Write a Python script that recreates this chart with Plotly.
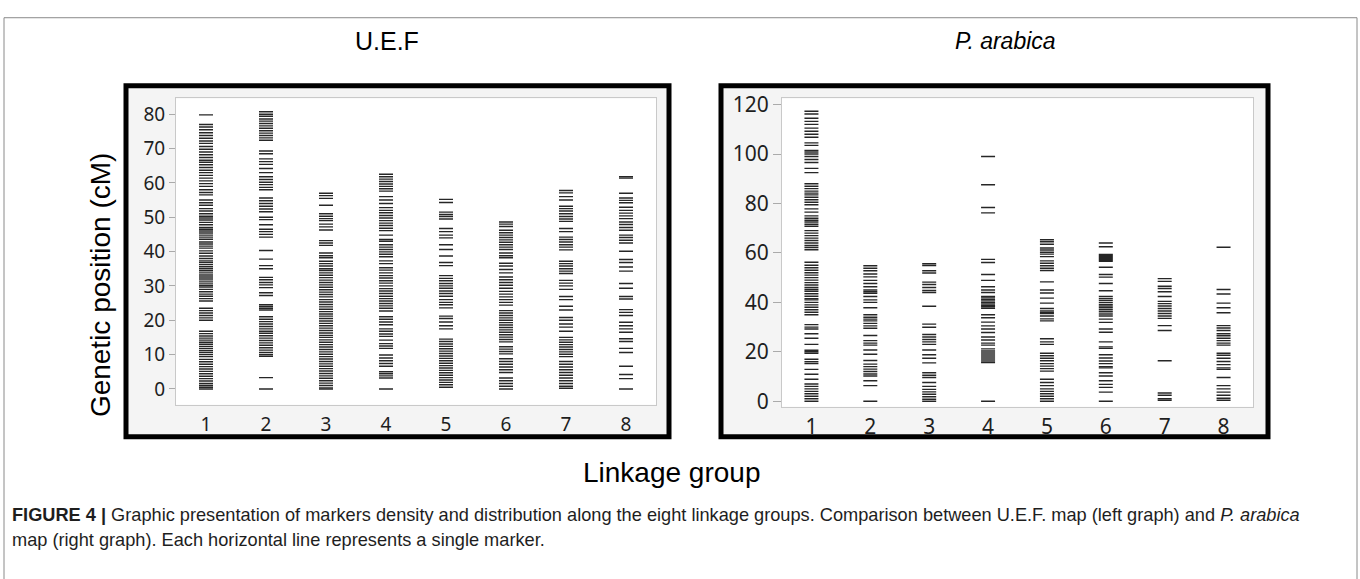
import plotly.graph_objects as go

W, H = 1360, 579

groups = [1, 2, 3, 4, 5, 6, 7, 8]
group_labels = ["1", "2", "3", "4", "5", "6", "7", "8"]
uef_yticks = [0, 10, 20, 30, 40, 50, 60, 70, 80]
ara_yticks = [0, 20, 40, 60, 80, 100, 120]

# ---- U.E.F map: marker positions (cM) per linkage group ----
uef_lg1 = [79.8, 77.0, 76.3, 75.5, 74.6, 73.8, 73.0, 72.2, 71.5, 70.6, 69.8, 69.0, 68.2, 67.4, 66.6,
           66.0, 65.3, 64.5, 63.7, 63.0, 62.2, 61.4, 60.6, 59.8, 59.0, 58.0, 57.2, 56.5, 55.0, 54.2,
           53.5, 52.5, 51.8, 51.0, 50.3, 49.8, 49.2, 48.5, 47.8, 47.0, 46.5, 46.0, 45.4, 44.8, 44.2,
           43.6, 42.8, 42.2, 41.6, 41.0, 40.2, 39.5, 38.7, 38.0, 37.3, 36.8, 36.2, 35.6, 35.0, 34.4,
           33.8, 33.2, 32.6, 32.0, 31.4, 30.8, 30.2, 29.7, 29.0, 28.3, 27.6, 27.0, 26.3, 25.6, 23.5,
           22.8, 22.1, 21.4, 20.7, 20.0, 16.8, 16.1, 15.4, 14.8, 14.2, 13.6, 13.0, 12.4, 11.8, 11.2,
           10.6, 10.0, 9.4, 8.6, 7.9, 7.2, 6.5, 5.8, 5.1, 4.4, 3.7, 3.0, 2.3, 1.6, 1.0, 0.5, 0.0]
uef_lg2 = [80.7, 80.0, 79.4, 78.6, 78.0, 77.3, 76.6, 75.9, 75.2, 74.5, 73.8, 73.1, 72.4, 69.3, 68.5,
           67.0, 66.2, 65.4, 64.2, 63.0, 61.8, 61.0, 60.2, 59.5, 58.7, 58.0, 55.6, 54.8, 54.0, 53.2,
           52.4, 51.6, 50.0, 49.3, 47.8, 46.5, 45.8, 45.0, 44.2, 40.3, 37.8, 35.9, 35.0, 32.5, 31.8,
           31.0, 30.3, 29.5, 28.0, 27.2, 24.5, 24.0, 23.5, 23.0, 21.0, 20.3, 19.6, 18.9, 18.2, 17.5,
           16.8, 16.2, 15.5, 14.8, 14.1, 13.4, 12.7, 12.0, 11.3, 10.6, 10.0, 9.5, 3.3, 0.0]
uef_lg3 = [57.0, 56.3, 55.5, 53.5, 51.0, 50.3, 49.6, 49.0, 48.0, 47.2, 46.3, 43.2, 42.5, 41.8, 39.6,
           38.8, 38.2, 37.2, 36.5, 35.8, 35.0, 34.5, 33.8, 33.1, 32.4, 31.7, 31.0, 30.3, 29.6, 28.9,
           28.2, 27.5, 26.8, 26.0, 25.3, 24.6, 23.9, 23.2, 22.5, 21.8, 21.2, 20.5, 19.8, 19.1, 18.4,
           17.7, 17.0, 16.3, 15.6, 15.0, 14.3, 13.6, 12.9, 12.2, 11.5, 10.8, 10.1, 9.4, 8.7, 8.0,
           7.3, 6.6, 5.9, 5.2, 4.5, 3.8, 3.1, 2.4, 1.7, 1.0, 0.3, 0.0]
uef_lg4 = [62.5, 61.8, 61.1, 60.4, 59.7, 59.0, 58.3, 57.6, 56.0, 55.0, 54.0, 52.8, 52.0, 51.3, 50.5,
           49.8, 49.0, 48.3, 47.6, 46.8, 46.1, 44.8, 43.5, 43.0, 42.0, 41.3, 40.6, 39.9, 39.2, 38.5,
           37.3, 36.5, 35.3, 34.6, 33.8, 33.0, 32.3, 31.5, 30.8, 30.0, 29.2, 28.5, 27.8, 27.0, 26.3,
           25.6, 24.9, 24.2, 23.5, 22.7, 21.0, 20.3, 19.5, 18.7, 17.5, 16.8, 16.0, 15.3, 14.2, 13.2,
           12.5, 11.8, 9.9, 9.0, 8.2, 7.4, 6.6, 5.0, 4.4, 3.8, 3.2, 0.0]
uef_lg5 = [55.2, 54.3, 51.5, 50.8, 50.2, 49.5, 46.7, 45.8, 44.8, 44.0, 42.0, 40.6, 38.7, 36.8, 35.9,
           33.0, 32.2, 31.5, 30.7, 30.0, 29.3, 28.5, 27.8, 27.0, 26.0, 25.2, 24.5, 23.6, 21.2, 20.5,
           19.5, 18.4, 17.5, 14.5, 13.8, 13.1, 12.4, 11.7, 11.0, 10.3, 9.6, 8.9, 8.2, 7.5, 6.8,
           6.1, 5.4, 4.7, 4.0, 3.3, 2.6, 1.9, 1.2, 0.5]
uef_lg6 = [48.6, 48.0, 47.3, 46.2, 45.5, 44.8, 44.1, 43.4, 42.7, 42.0, 41.3, 40.6, 39.6, 38.8, 38.2,
           36.6, 35.8, 34.8, 33.8, 32.6, 31.8, 31.0, 30.2, 29.3, 28.4, 27.6, 26.8, 26.0, 25.2, 24.4,
           22.8, 22.1, 21.4, 20.7, 20.0, 19.3, 18.6, 17.9, 17.2, 16.5, 15.8, 15.1, 14.4, 13.7, 12.3,
           11.6, 10.9, 10.2, 8.8, 8.0, 7.2, 6.4, 5.6, 4.8, 3.2, 2.4, 1.6, 0.8, 0.0]
uef_lg7 = [57.8, 57.1, 56.0, 55.0, 53.2, 52.5, 51.8, 51.0, 50.2, 49.5, 48.8, 46.7, 45.8, 44.2, 43.5,
           42.8, 42.0, 41.3, 40.5, 37.2, 36.5, 35.8, 35.0, 34.3, 33.6, 31.6, 30.8, 30.0, 29.0, 26.9,
           26.0, 24.1, 23.0, 20.8, 20.0, 18.9, 18.0, 16.8, 15.0, 14.3, 13.6, 12.9, 12.2, 11.5, 10.8,
           10.1, 9.4, 8.0, 7.2, 6.4, 5.6, 4.8, 4.0, 3.2, 2.4, 1.6, 0.8, 0.2]
uef_lg8 = [61.8, 61.4, 57.0, 55.6, 54.9, 54.2, 52.9, 52.0, 51.2, 50.4, 49.6, 48.6, 47.9, 47.0, 46.2,
           44.8, 44.1, 43.3, 42.5, 40.1, 37.7, 36.8, 35.5, 34.3, 30.7, 29.3, 26.9, 26.2, 23.1, 22.3,
           21.4, 19.4, 18.4, 17.5, 16.5, 14.6, 13.8, 11.8, 10.6, 6.6, 4.2, 3.0, 0.0]

# ---- P. arabica map: marker positions (cM) per linkage group ----
ara_lg1 = [117.3, 116.2, 114.5, 113.2, 112.0, 110.5, 109.2, 108.0, 106.8, 104.5, 103.5, 101.5, 100.8,
           100.0, 99.0, 97.8, 96.6, 94.2, 92.5, 88.0, 87.0, 86.0, 85.0, 84.2, 83.5, 82.5, 81.5, 80.5,
           79.5, 77.8, 76.5, 75.0, 74.0, 73.2, 72.5, 71.6, 70.8, 69.0, 68.0, 67.0, 66.0, 65.0, 64.0,
           63.0, 62.2, 61.3, 56.2, 55.0, 54.0, 53.0, 52.0, 51.0, 50.0, 49.0, 48.0, 47.0, 46.0, 45.2,
           44.5, 43.5, 42.5, 41.5, 41.0, 40.0, 39.0, 38.0, 37.0, 36.0, 35.0, 31.0, 30.0, 29.2, 27.3,
           25.5, 23.0, 20.6, 20.0, 19.4, 17.0, 16.0, 15.2, 12.9, 10.9, 8.9, 7.0, 6.0, 5.0, 4.0, 3.0,
           2.0, 1.0, 0.0]
ara_lg2 = [54.8, 53.8, 52.8, 51.5, 50.3, 48.9, 47.6, 46.3, 45.0, 44.3, 43.7, 42.4, 41.0, 40.0, 37.8,
           35.0, 34.0, 33.2, 32.5, 31.5, 30.5, 29.5, 26.6, 24.5, 23.5, 22.7, 20.7, 19.0, 16.5, 15.0,
           14.0, 13.0, 12.0, 11.0, 10.2, 8.3, 6.3, 0.0]
ara_lg3 = [55.6, 54.9, 52.8, 51.9, 48.2, 47.2, 46.0, 44.8, 44.0, 38.4, 31.2, 29.9, 27.0, 26.0, 25.0,
           24.0, 23.0, 20.7, 18.8, 17.4, 15.5, 11.5, 10.5, 9.6, 7.6, 6.0, 4.8, 3.8, 2.8, 1.8, 0.8, 0.0]
ara_lg4 = [99.0, 87.6, 78.4, 76.2, 57.4, 56.1, 51.3, 48.9, 46.3, 45.0, 44.0, 42.4, 41.8, 41.2, 40.6,
           40.0, 39.4, 38.8, 38.2, 37.6, 35.0, 33.8, 32.0, 30.5, 29.2, 27.8, 26.0, 24.8, 23.5, 22.7,
           21.2, 20.3, 19.5, 18.7, 17.9, 17.1, 16.3, 15.6, 0.0]
ara_lg5 = [65.3, 64.5, 63.5, 62.0, 61.2, 60.3, 59.5, 58.5, 56.8, 55.8, 54.8, 53.8, 52.9, 48.3, 45.0,
           43.8, 41.7, 39.7, 37.5, 36.5, 35.8, 35.5, 34.5, 33.3, 32.5, 25.3, 24.0, 23.0, 19.4, 18.4,
           17.4, 16.4, 15.2, 14.2, 13.2, 12.2, 8.9, 7.6, 6.3, 5.0, 4.0, 3.0, 2.0, 1.0, 0.0]
ara_lg6 = [64.0, 62.5, 59.4, 59.0, 58.6, 58.2, 57.8, 57.4, 57.0, 56.6, 54.2, 51.3, 50.2, 47.6, 44.7,
           42.4, 41.5, 40.8, 40.0, 39.2, 38.5, 37.8, 37.0, 36.2, 35.3, 34.5, 33.2, 31.9, 29.2, 27.9,
           24.0, 22.0, 21.4, 18.8, 17.5, 16.3, 15.2, 14.0, 13.5, 11.5, 10.2, 8.3, 6.8, 5.6, 3.7, 0.0]
ara_lg7 = [49.6, 48.5, 46.5, 45.6, 44.3, 42.4, 40.4, 39.5, 38.5, 37.5, 36.5, 35.5, 34.5, 33.5, 30.6,
           28.6, 16.4, 3.3, 2.4, 1.0, 0.4]
ara_lg8 = [62.3, 45.2, 43.4, 39.7, 37.8, 35.8, 30.6, 29.6, 28.6, 27.3, 26.5, 25.5, 24.5, 23.5, 22.7,
           19.4, 18.6, 17.4, 16.1, 14.8, 13.5, 12.9, 9.6, 6.3, 5.0, 3.7, 2.4, 1.2, 0.4]

uef_groups = [uef_lg1, uef_lg2, uef_lg3, uef_lg4, uef_lg5, uef_lg6, uef_lg7, uef_lg8]
ara_groups = [ara_lg1, ara_lg2, ara_lg3, ara_lg4, ara_lg5, ara_lg6, ara_lg7, ara_lg8]


def px_x(p):
    return p / W


def px_y(p):
    return 1 - p / H


fig = go.Figure()

mark_style = dict(symbol="line-ew", size=10, line=dict(width=1.4, color="#262626"))

for g, vals in zip(groups, uef_groups):
    fig.add_trace(go.Scatter(x=[g] * len(vals), y=vals, mode="markers", marker=mark_style,
                             xaxis="x", yaxis="y", showlegend=False, hoverinfo="y"))
for g, vals in zip(groups, ara_groups):
    fig.add_trace(go.Scatter(x=[g] * len(vals), y=vals, mode="markers", marker=mark_style,
                             xaxis="x2", yaxis="y2", showlegend=False, hoverinfo="y"))

tick_font_l = dict(family="Noto Sans, Open Sans, sans-serif", size=19, color="#1e1e1e")
tick_font_r = dict(family="Noto Sans, Open Sans, sans-serif", size=21, color="#1e1e1e")
axis_common = dict(showgrid=False, zeroline=False, showline=True, mirror=True,
                   linecolor="#c9c9c9", linewidth=1, fixedrange=True)

fig.update_layout(
    width=W, height=H,
    margin=dict(l=0, r=0, t=0, b=0),
    paper_bgcolor="white",
    plot_bgcolor="rgba(0,0,0,0)",
    xaxis=dict(domain=[px_x(176), px_x(656)], range=[0.5, 8.5], tickvals=groups, ticktext=group_labels,
               ticks="", tickfont=tick_font_l, anchor="y", ticklabelstandoff=2, **axis_common),
    yaxis=dict(domain=[px_y(408), px_y(93)], range=[-4.6, 84.6], tickvals=uef_yticks,
               ticks="outside", ticklen=6, tickcolor="#aaaaaa", tickfont=tick_font_l, anchor="x",
               **axis_common),
    xaxis2=dict(domain=[px_x(782), px_x(1253)], range=[0.5, 8.5], tickvals=groups, ticktext=group_labels,
                ticks="", tickfont=tick_font_r, anchor="y2", ticklabelstandoff=1, **axis_common),
    yaxis2=dict(domain=[px_y(410), px_y(93)], range=[-2.2, 122.5], tickvals=ara_yticks,
                ticks="outside", ticklen=8, tickcolor="#aaaaaa", tickfont=tick_font_r, anchor="x2",
                **axis_common),
)

shapes = []
# outer figure border
shapes.append(dict(type="rect", xref="paper", yref="paper", x0=px_x(4), x1=px_x(1357),
                   y0=px_y(600), y1=px_y(10), line=dict(color="#8a8a8a", width=1), layer="below"))
# panel frames
for x0, x1 in [(126, 669), (721, 1268)]:
    shapes.append(dict(type="rect", xref="paper", yref="paper", x0=px_x(x0), x1=px_x(x1),
                       y0=px_y(441), y1=px_y(80), line=dict(color="black", width=5),
                       fillcolor="#f4f4f4", layer="below"))
# white plot areas
for x0, x1, yb in [(176, 656, 408), (782, 1253, 410)]:
    shapes.append(dict(type="rect", xref="paper", yref="paper", x0=px_x(x0), x1=px_x(x1),
                       y0=px_y(yb), y1=px_y(93), line=dict(width=0), fillcolor="white", layer="below"))
fig.update_layout(shapes=shapes)

title_font = "Liberation Sans Narrow, Arial Narrow, Liberation Sans, Arial, sans-serif"
ann = [
    dict(text="U.E.F", x=px_x(387), y=px_y(34), font=dict(family=title_font, size=25, color="black")),
    dict(text="<i>P. arabica</i>", x=px_x(1005), y=px_y(34),
         font=dict(family=title_font, size=23, color="black")),
    dict(text="Linkage group", x=px_x(671), y=px_y(478),
         font=dict(family="Liberation Sans, Arial, sans-serif", size=28, color="black")),
    dict(text="Genetic position (cM)", x=px_x(100), y=px_y(285), textangle=-90,
         font=dict(family="Liberation Sans, Arial, sans-serif", size=28, color="black")),
    dict(text="<b>FIGURE 4 |</b> Graphic presentation of markers density and distribution along the eight "
              "linkage groups. Comparison between U.E.F. map (left graph) and <i>P. arabica</i>",
         x=px_x(10), y=px_y(521), xanchor="left",
         font=dict(family=title_font, size=18.2, color="#1e1e1e")),
    dict(text="map (right graph). Each horizontal line represents a single marker.",
         x=px_x(10), y=px_y(547), xanchor="left",
         font=dict(family=title_font, size=18.2, color="#1e1e1e")),
]
for a in ann:
    a.setdefault("xanchor", "center")
    a.update(xref="paper", yref="paper", yanchor="middle", showarrow=False)
fig.update_layout(annotations=ann)

fig.write_html("out.html")
